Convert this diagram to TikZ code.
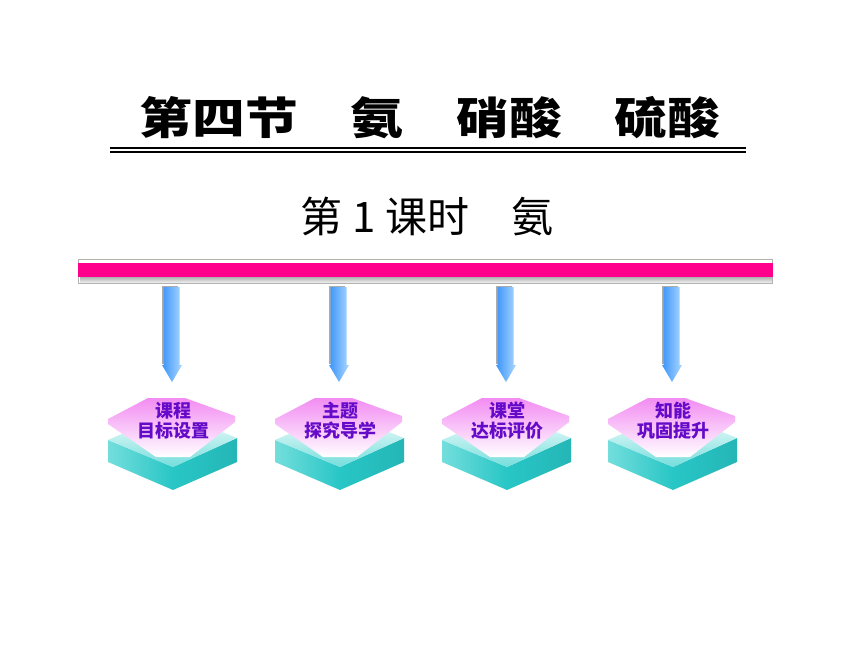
\documentclass[tikz,border=0pt]{standalone}
\usepackage{fontspec}
\newfontfamily\heiti{Noto Sans CJK SC}
\usetikzlibrary{positioning}
\definecolor{barpink}{RGB}{255,0,140}
\definecolor{arrowblue}{RGB}{60,148,250}
\definecolor{arrowlight}{RGB}{170,215,255}
\definecolor{platepink}{RGB}{242,140,242}
\definecolor{platelight}{RGB}{250,205,250}
\definecolor{tealface}{RGB}{40,198,198}
\definecolor{teallight}{RGB}{115,222,220}
\definecolor{textpurple}{RGB}{100,10,200}

\begin{document}
\begin{tikzpicture}[x=1pt,y=1pt,
  boxtext/.style={font=\heiti\bfseries\fontsize{18}{20}\selectfont, text=textpurple, align=center, inner sep=0pt}]
\useasboundingbox (0,0) rectangle (860,-645);
\fill [white] (0,0) rectangle (860,-645);

\node (title) at (430,-118) {\heiti\bfseries\fontsize{44}{44}\selectfont\scalebox{1.2}[1]{第四节　氨　硝酸　硫酸}};
\draw [line width=1.2] (110,-148) -- (746,-148);
\draw [line width=1.2] (110,-152) -- (746,-152);

\node (lesson) at (427,-216) {\heiti\fontsize{42}{42}\selectfont 第 1 课时　氨};

% bar
\shade [top color=gray!70, bottom color=white] (80,-276) rectangle (772,-284);
\draw [gray!60, line width=0.6] (78,-259.5) rectangle (772,-283);
\fill [barpink] (78,-262.7) rectangle (773,-276.7);

% arrows
\foreach \x in {172,339,506,672} {
  \fill [gray!65] (\x-10,-286) -- (\x+6,-286) -- (\x+6,-364) -- (\x-10,-364) -- cycle;
  \shade [left color=arrowblue, right color=arrowlight] (\x-8.5,-287) -- (\x+7.5,-287) -- (\x+7.5,-365) -- (\x+10,-365) -- (\x,-382) -- (\x-10,-365) -- (\x-8.5,-365) -- cycle;
}

% boxes
\foreach \x/\name/\first/\second in {172/goal/课程/目标设置, 339/explore/主题/探究导学, 506/check/课堂/达标评价, 672/improve/知能/巩固提升} {
  \shade [left color=teallight, right color=tealface] (\x-64,-440) -- (\x+1,-467) -- (\x+1,-490) -- (\x-64,-462) -- cycle;
  \shade [left color=tealface, right color=tealface!92!black] (\x+1,-467) -- (\x+65,-438) -- (\x+65,-462) -- (\x+1,-490) -- cycle;
  \shade [top color=white, bottom color=teallight] (\x-64,-440) -- (\x,-412) -- (\x+65,-438) -- (\x+1,-467) -- cycle;
  \shade [top color=platepink, middle color=platelight, bottom color=white] (\x-24,-398) -- (\x+13,-398) -- (\x+63,-416) -- (\x+63,-422) -- (\x+18,-457) -- (\x-16,-457) -- (\x-64,-424) -- (\x-64,-419) -- cycle;
  \node [boxtext] (\name) at (\x+1,-421) {\first\\\second};
}
\end{tikzpicture}
\end{document}
